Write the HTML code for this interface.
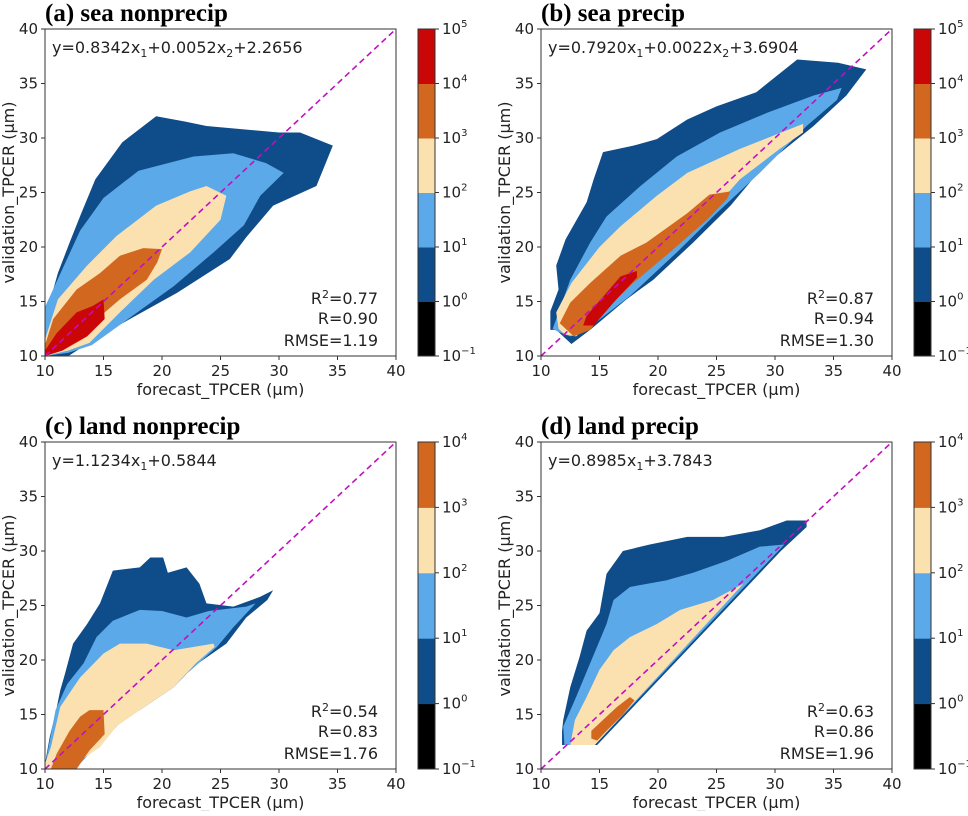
<!DOCTYPE html>
<html><head><meta charset="utf-8"><style>
body{margin:0;background:#fff}
svg text{font-family:"DejaVu Sans","Liberation Sans",sans-serif;fill:#222}
.ttl{font-family:"Liberation Serif",serif;font-weight:bold;font-size:25px;fill:#000}
</style></head><body>
<svg id="chart" width="968" height="811" xmlns="http://www.w3.org/2000/svg"></svg>
<script>
const ticks=[10,15,20,25,30,35,40];
const bandColors=["#0f4c8a","#5ba9e8","#fbe0b0","#d2681f","#cb0606"];
const cbColors5=["#000000","#0f4c8a","#5ba9e8","#fbe0b0","#d2681f","#cb0606"];
const cbColors4=["#000000","#0f4c8a","#5ba9e8","#fbe0b0","#d2681f"];
const cbLabels5=["-1","0","1","2","3","4","5"];
const cbLabels4=["-1","0","1","2","3","4"];
const titles=["(a) sea nonprecip","(b) sea precip","(c) land nonprecip","(d) land precip"];
const equations=[["y=0.8342x","1","+0.0052x","2","+2.2656"],["y=0.7920x","1","+0.0022x","2","+3.6904"],["y=1.1234x","1","+0.5844"],["y=0.8985x","1","+3.7843"]];
const r2Vals=["0.77","0.87","0.54","0.63"];
const rVals=["0.90","0.94","0.83","0.86"];
const rmseVals=["1.19","1.30","1.76","1.96"];
const bandsA=[
[[10,10],[10,13.4],[11.1,17.6],[12.1,20.4],[13.1,23.1],[14.3,26.2],[16.6,29.6],[19.5,32],[22,31.5],[23.8,31.1],[30,30.5],[31.8,30.5],[34.6,29.3],[33.2,25.6],[29.5,23.8],[27.2,20.9],[25.8,18.9],[21.3,15.8],[15.6,12.4],[13.3,10.9],[12,10]],
[[10,10],[10,14.5],[11.5,18],[13,21.5],[15,24.5],[18,27],[22.7,28.3],[26.1,28.6],[28.9,27.7],[30.4,26.8],[28.4,24.7],[27,22],[24.4,19.5],[21,16.4],[17.5,13.7],[14,11],[12,10.3]],
[[10,10],[10,11.5],[11.1,15.2],[13.6,18.3],[16.1,21],[19.5,23.8],[22.4,25.1],[23.8,25.6],[25.5,24.7],[25,22.5],[22.4,19.5],[19.3,17],[16.4,14],[13.8,11.2],[12,10.5]],
[[10,10],[10,11],[10.7,13.4],[12.7,16.1],[14.7,17.6],[16.4,19.2],[18.4,19.9],[20,19.8],[19.6,18.6],[18.7,17],[16.4,15.2],[13.8,12.8],[11.5,10.5]],
[[10,10],[10,10.5],[11,12.1],[12.7,14],[14.1,14.6],[15,15.2],[15.1,13.4],[13.6,11.8],[11.5,10.5]]];
const bandsB=[
[[10.8,12.4],[10.8,14.1],[11.5,16.1],[11.3,18.3],[12.1,20.7],[13.9,24.1],[14.5,26.2],[15.3,28.7],[17.9,29.3],[19.9,29.9],[22.5,31.7],[25,32.9],[28.4,34.2],[31.9,37.2],[35.4,36.9],[37.8,36.3],[36.1,33.9],[33.3,31.1],[29,27.4],[26.2,23.8],[23,20.4],[19.6,17],[17.3,15.2],[14.2,12.4],[12.6,11.1],[11.3,12.4]],
[[11,12.5],[11.5,14],[12.5,17],[14.2,20.4],[15.6,22.8],[18.5,25.6],[21.6,28.3],[25.3,30.5],[29.3,32.3],[33.3,33.9],[35.7,34.6],[35.3,33.5],[32.7,31.1],[28.7,26.8],[25,23.1],[21.6,19.5],[17.6,15.5],[14,12.5],[12.5,11.8],[11.5,12.2]],
[[11.5,12.5],[11.3,14],[12.6,16.7],[15,20],[16.8,21.9],[19.9,24.7],[22.5,26.8],[27,29],[32.4,31.3],[32.4,30.5],[30.4,29],[27,26.2],[24.2,22.8],[20.7,19.5],[17.6,16.4],[14.8,13.4],[13,11.8],[12,12]],
[[11.6,13],[12.5,14.9],[14.2,16.7],[16.8,19.2],[19,20.4],[22.5,23.1],[24.4,24.8],[26.2,25.1],[25.9,24.4],[24.2,22.5],[21,19.5],[17.9,16.7],[15.6,14.3],[14.2,12.4],[12.8,11.8]],
[[13.6,12.8],[13.9,13.7],[15.6,15.8],[16.8,17.3],[18.2,17.8],[18.2,17.2],[16.2,14.9],[14.5,12.8]]];
const bandsC=[
[[10,10],[10,10.5],[10.4,12.9],[10.9,15.1],[11.3,17.2],[11.7,18.7],[12.4,21.5],[13.6,23.3],[14.7,25.2],[15.8,28.2],[18.1,28.5],[19,29.4],[20.1,29.4],[20.5,28],[22.1,28.5],[23.2,27],[23.8,25.2],[26.1,24.9],[28.4,25.8],[29.5,26.4],[29,25.5],[27.2,23.9],[25.5,21.5],[22.7,19.4],[21,17.5],[18.1,15.4],[15.8,14.2],[14.1,12.3],[12,10]],
[[10,10],[10,10.3],[10.9,15.4],[11.9,17.8],[13.3,19.7],[14.4,22.1],[15.8,23.6],[18.1,24.6],[20,24.5],[22.1,23.9],[24,24.5],[27.2,24.9],[28,25.2],[26.1,23],[24.7,21.2],[22.4,19],[19.5,16.6],[16.4,14.2],[13,10.5]],
[[10,10],[10,10.5],[10.5,12],[11.3,15.7],[13,18.4],[15,20.6],[16.4,21.5],[18.7,21.5],[21,20.9],[24.4,21.5],[24.5,21.2],[22.9,19.7],[21,17.5],[18.1,15.4],[16.1,13.9],[14.7,12],[12,10]],
[[10.5,10],[11,11.4],[12.1,13.5],[13,14.8],[13.8,15.4],[15,15.4],[15.1,13.2],[13.8,11.7],[12.7,10]]];
const bandsD=[
[[11.8,12.2],[11.8,13.5],[11.9,14.5],[12.5,17.5],[13.3,20.3],[13.9,22.7],[15,24.3],[15.6,27.9],[17,30],[19.3,30.6],[22.5,31.3],[25.6,31.3],[28.7,31.9],[31,32.8],[32.7,32.8],[32.7,32.2],[30.5,30],[14.8,12.2]],
[[12,12.2],[11.9,13.9],[13,16.6],[14.2,19.7],[15.6,23.3],[16.2,25.5],[17.6,26.7],[20.7,27.3],[23,28],[25.9,29.1],[28.7,30.4],[30.8,30.6],[14.6,12.2]],
[[12.5,12.2],[12.9,14.5],[13.9,16.6],[15,19.1],[16.2,20.9],[17.6,22.1],[19.9,23.3],[21.9,24.6],[24.7,25.5],[27.3,27],[14.6,12.2]],
[[14.3,12.8],[14.3,13.5],[15.6,14.8],[16.5,15.7],[17.6,16.6],[18,16.3],[17,15],[15.6,13.5],[14.8,12.6]]];
const panelBands=[bandsA,bandsB,bandsC,bandsD];
const panelBoxes=[[45,396,29,356],[541,892,29,356],[45,396,442,769],[541,892,442,769]];
const cbX=[418,914,418,914];

const NS="http://www.w3.org/2000/svg";
const svg=document.getElementById('chart');
function mk(tag,attrs,parent){const e=document.createElementNS(NS,tag);for(const k in attrs)e.setAttribute(k,attrs[k]);(parent||svg).appendChild(e);return e;}

panelBoxes.forEach((b,pi)=>{
  const [x0,x1,y0,y1]=b;
  const sx=v=>x0+(v-10)/30*(x1-x0);
  const sy=v=>y1-(v-10)/30*(y1-y0);
  const g=mk('g',{});
  
  
  const t=mk('text',{x:x0,y:y0-8,class:'ttl'},g);t.textContent=titles[pi];
  
  
  panelBands[pi].forEach((poly,bi)=>{
    const p=mk('polygon',{points:poly.map(q=>sx(q[0])+','+sy(q[1])).join(' '),fill:bandColors[bi]},g);
    
    
  });
  const dl=mk('line',{x1:sx(10),y1:sy(10),x2:sx(40),y2:sy(40),stroke:'#c010c0','stroke-width':1.6,'stroke-dasharray':'6,4'},g);
  
  
  const fr=mk('rect',{x:x0,y:y0,width:x1-x0,height:y1-y0,fill:'none',stroke:'#333','stroke-width':1},g);
  
  
  ticks.forEach(v=>{
    mk('line',{x1:sx(v),x2:sx(v),y1:y1,y2:y1+4,stroke:'#333'},g);
    mk('line',{x1:x0-4,x2:x0,y1:sy(v),y2:sy(v),stroke:'#333'},g);
    const tx=mk('text',{x:sx(v),y:y1+20,'text-anchor':'middle','font-size':15},g);tx.textContent=v;
    
    
    const ty=mk('text',{x:x0-7,y:sy(v)+5,'text-anchor':'end','font-size':15},g);ty.textContent=v;
    
    
  });
  const xl=mk('text',{x:(x0+x1)/2,y:y1+39,'text-anchor':'middle','font-size':16},g);xl.textContent='forecast_TPCER (μm)';
  
  
  const yl=mk('text',{x:0,y:0,'text-anchor':'middle','font-size':16,transform:`translate(${x0-31},${(y0+y1)/2}) rotate(-90)`},g);yl.textContent='validation_TPCER (μm)';
  
  
  const eq=mk('text',{x:x0+7,y:y0+24,'font-size':16},g);
  
  
  equations[pi].forEach((s,i)=>{const ts=mk('tspan',i%2?{'font-size':11,dy:4}:{dy:i?-4:0},eq);ts.textContent=s;});
  const st=[['R',r2Vals[pi],true],['R=',rVals[pi]],['RMSE=',rmseVals[pi]]];
  const ys=[y1-52,y1-32,y1-10];
  st.forEach((s,i)=>{
    const tt=mk('text',{x:x1-18,y:ys[i],'text-anchor':'end','font-size':16},g);
    
    
    if(s[2]){mk('tspan',{},tt).textContent='R';const sp=mk('tspan',{'font-size':11,dy:-6},tt);sp.textContent='2';mk('tspan',{dy:6},tt).textContent='='+s[1];}
    else tt.textContent=s[0]+s[1];
  });
  const cols=pi<2?cbColors5:cbColors4, labs=pi<2?cbLabels5:cbLabels4;
  const cx=cbX[pi], cw=17, n=cols.length, h=(y1-y0)/n;
  const cg=mk('g',{},g);
  
  
  cols.forEach((c,i)=>{mk('rect',{x:cx,y:y1-(i+1)*h,width:cw,height:h+0.5,fill:c},cg);});
  mk('rect',{x:cx,y:y0,width:cw,height:y1-y0,fill:'none',stroke:'#333'},cg);
  labs.forEach((l,i)=>{
    const yy=y1-i*h;
    mk('line',{x1:cx+cw,x2:cx+cw+4,y1:yy,y2:yy,stroke:'#333'},cg);
    const lt=mk('text',{x:cx+cw+7,y:yy+5,'font-size':15},cg);
    
    
    mk('tspan',{},lt).textContent='10';
    mk('tspan',{'font-size':10,dy:-7},lt).textContent=l.replace('-','−');
  });
});
</script>
</body></html>
